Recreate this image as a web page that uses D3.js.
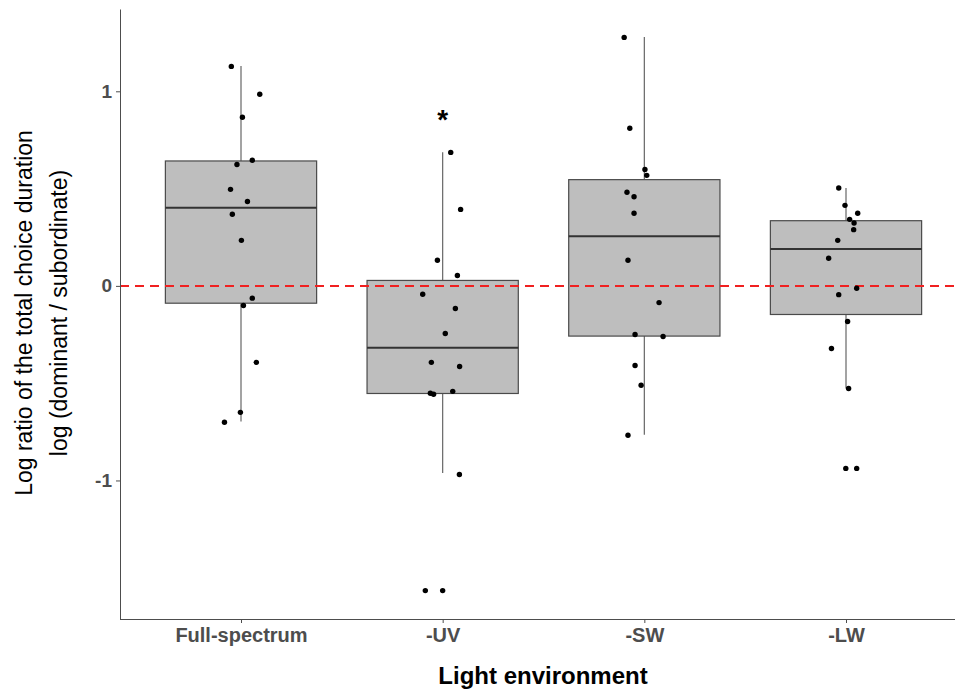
<!DOCTYPE html>
<meta charset="utf-8">
<style>
    body { margin: 0; background: white; }
    svg { display: block; font-family: "Liberation Sans", Arial, sans-serif; }
    .axis path, .axis line { stroke: #4d4d4d; }
    .axis text { fill: #4d4d4d; font-weight: bold; }
</style>
<body>
<svg id="chart" width="955" height="689"></svg>
<script src="https://d3js.org/d3.v7.min.js"></script>
<script>
    // categories
    const groups = ["Full-spectrum", "-UV", "-SW", "-LW"];

    // box stats
    const boxQ1 = [-0.089, -0.553, -0.258, -0.147];
    const boxMed = [0.401, -0.318, 0.255, 0.190];
    const boxQ3 = [0.642, 0.028, 0.546, 0.335];
    const whiskLo = [-0.697, -0.962, -0.765, -0.527];
    const whiskHi = [1.130, 0.687, 1.279, 0.503];

    // individual observations (value, jitter in category steps)
    const fullVals = [1.128, 0.985, 0.867, 0.646, 0.624, 0.496, 0.434, 0.368, 0.234, -0.063, -0.101, -0.393, -0.650, -0.701];
    const fullJit = [-0.048, 0.093, 0.007, 0.056, -0.020, -0.052, 0.032, -0.043, 0.002, 0.056, 0.012, 0.076, -0.003, -0.082];
    const uvVals = [0.686, 0.393, 0.132, 0.053, -0.043, -0.116, -0.245, -0.393, -0.414, -0.542, -0.552, -0.557, -0.969, -1.566, -1.566];
    const uvJit = [0.040, 0.089, -0.026, 0.073, -0.099, 0.063, 0.013, -0.056, 0.084, 0.050, -0.061, -0.045, 0.083, -0.086, 0.000];
    const swVals = [1.277, 0.810, 0.598, 0.568, 0.481, 0.458, 0.373, 0.132, -0.086, -0.250, -0.260, -0.409, -0.511, -0.768];
    const swJit = [-0.100, -0.072, 0.003, 0.012, -0.086, -0.051, -0.051, -0.081, 0.073, -0.046, 0.093, -0.046, -0.016, -0.081];
    const lwVals = [0.503, 0.414, 0.373, 0.342, 0.323, 0.289, 0.234, 0.142, -0.012, -0.045, -0.183, -0.322, -0.527, -0.938, -0.938];
    const lwJit = [-0.036, -0.005, 0.058, 0.018, 0.040, 0.038, -0.041, -0.086, 0.053, -0.036, 0.008, -0.072, 0.013, -0.001, 0.053];

    const yTicks = [-1, 0, 1];
    const sigLabels = ["", "*", "", ""];
    const sigY = 0.86;
    const refLine = 0;

    const svg = d3.select("#chart");
    const m = { left: 120, right: 967, top: 9, bottom: 619 };

    const x = d3.scalePoint().domain(groups).range([m.left, m.right]).padding(0.6);
    const step = x.step();
    const y = d3.scaleLinear().domain([-1.712, 1.423]).range([m.bottom, m.top]);

    const boxes = groups.map((g, i) => ({
        g: g, q1: boxQ1[i], med: boxMed[i], q3: boxQ3[i], lo: whiskLo[i], hi: whiskHi[i]
    }));

    const valueSets = [fullVals, uvVals, swVals, lwVals];
    const jitterSets = [fullJit, uvJit, swJit, lwJit];
    const points = [];
    groups.forEach((g, i) => {
        valueSets[i].forEach((v, j) => points.push({ g: g, v: v, j: jitterSets[i][j] }));
    });

    const plot = svg.append("g");
    const boxW = step * 0.75;

    // whiskers
    plot.selectAll("line.whisk-hi").data(boxes).join("line")
        .attr("class", "whisk-hi")
        .attr("x1", d => x(d.g)).attr("x2", d => x(d.g))
        .attr("y1", d => y(d.q3)).attr("y2", d => y(d.hi))
        .attr("stroke", "#666").attr("stroke-width", 1.2);
    plot.selectAll("line.whisk-lo").data(boxes).join("line")
        .attr("class", "whisk-lo")
        .attr("x1", d => x(d.g)).attr("x2", d => x(d.g))
        .attr("y1", d => y(d.q1)).attr("y2", d => y(d.lo))
        .attr("stroke", "#666").attr("stroke-width", 1.2);

    // boxes
    plot.selectAll("rect.box").data(boxes).join("rect")
        .attr("class", "box")
        .attr("x", d => x(d.g) - boxW / 2)
        .attr("width", boxW)
        .attr("y", d => y(d.q3))
        .attr("height", d => y(d.q1) - y(d.q3))
        .attr("fill", "#bebebe")
        .attr("stroke", "#4a4a4a")
        .attr("stroke-width", 1.2);

    plot.selectAll("line.median").data(boxes).join("line")
        .attr("class", "median")
        .attr("x1", d => x(d.g) - boxW / 2).attr("x2", d => x(d.g) + boxW / 2)
        .attr("y1", d => y(d.med)).attr("y2", d => y(d.med))
        .attr("stroke", "#333").attr("stroke-width", 2);

    // reference line at zero
    plot.append("line")
        .attr("x1", m.left).attr("x2", m.right)
        .attr("y1", y(refLine)).attr("y2", y(refLine))
        .attr("stroke", "#f02020").attr("stroke-width", 2)
        .attr("stroke-dasharray", "9,6");

    // jittered points
    plot.selectAll("circle").data(points).join("circle")
        .attr("cx", d => x(d.g) + d.j * step)
        .attr("cy", d => y(d.v))
        .attr("r", 2.7)
        .attr("fill", "black");

    // significance marks
    plot.selectAll("text.sig").data(groups).join("text")
        .attr("class", "sig")
        .attr("x", d => x(d))
        .attr("y", y(sigY) + 10)
        .attr("text-anchor", "middle")
        .attr("font-size", 28)
        .attr("font-weight", "bold")
        .text((d, i) => sigLabels[i]);

    // axes
    const xAxis = svg.append("g").attr("class", "axis")
        .attr("transform", `translate(0,${m.bottom})`)
        .call(d3.axisBottom(x).tickSize(4).tickSizeOuter(0).tickPadding(5));
    xAxis.select(".domain").attr("d", `M${m.left},0.5H955`);
    xAxis.selectAll("text").attr("font-size", 20);

    const yAxis = svg.append("g").attr("class", "axis")
        .attr("transform", `translate(${m.left},0)`)
        .call(d3.axisLeft(y).tickValues(yTicks).tickFormat(d => String(d)).tickSize(4).tickSizeOuter(0).tickPadding(4));
    yAxis.selectAll("text").attr("font-size", 19);

    // titles
    svg.append("text")
        .attr("x", 543).attr("y", 684)
        .attr("text-anchor", "middle")
        .attr("font-size", 24).attr("font-weight", "bold")
        .text("Light environment");

    const yTitle = svg.append("text")
        .attr("transform", "translate(32,313) rotate(-90)")
        .attr("text-anchor", "middle")
        .attr("font-size", 23);
    yTitle.append("tspan").attr("x", 0).attr("dy", 0).text("Log ratio of the total choice duration");
    yTitle.append("tspan").attr("x", 0).attr("dy", 35).text("log (dominant / subordinate)");
</script>
</body>
</html>
